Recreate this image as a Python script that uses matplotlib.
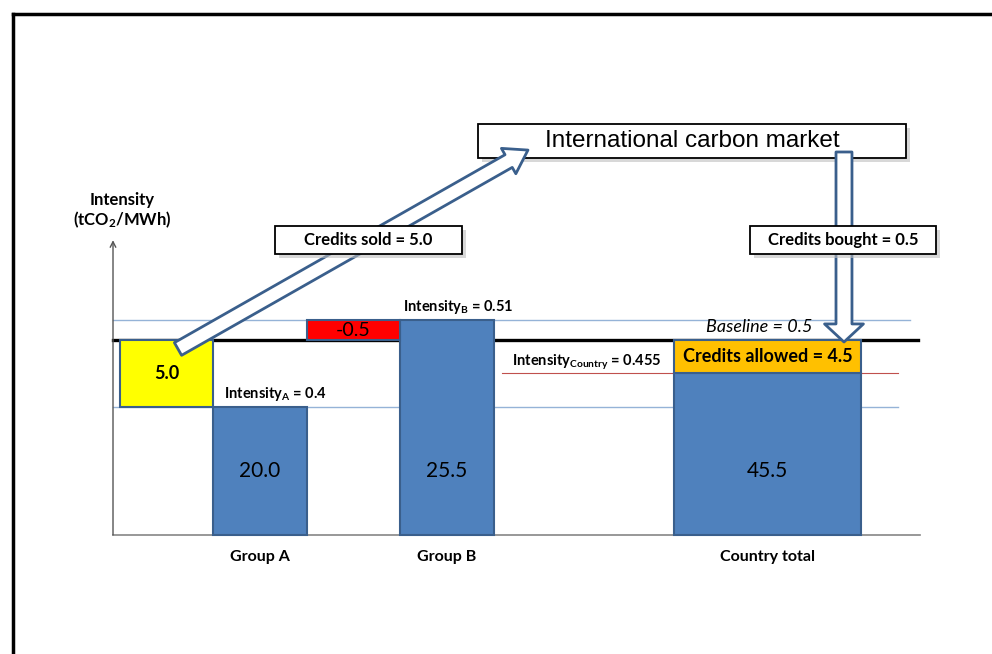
import matplotlib.pyplot as plt
import matplotlib.patches as mpatches
from matplotlib.lines import Line2D

plt.rcParams['font.family'] = ['Lato', 'DejaVu Sans']
plt.rcParams['mathtext.fontset'] = 'custom'
plt.rcParams['mathtext.rm'] = 'Lato:bold'
plt.rcParams['mathtext.default'] = 'rm'

# data
categories = ['Group A', 'Group B', 'Country total']
emissions = [20.0, 25.5, 45.5]
intensity_labels = ['Intensity$_{A}$ = 0.4', 'Intensity$_{B}$ = 0.51',
                    'Intensity$_{Country}$ = 0.455']
baseline = 0.5
# drawn heights of the bars (schematic, not to scale)
bar_top = [0.328, 0.551, 0.415]
bar_x = [1.5, 3.5, 6.93]
bar_w = [1, 1, 2]
credits_sold = 5.0
credits_bought = 0.5
credits_allowed = 4.5
shortfall_b = -0.5

blue = '#4F81BD'
edge = '#3A5F8C'

fig = plt.figure(figsize=(9.92, 6.54), dpi=100)
ax = fig.add_axes([0, 0, 1, 1])
ax.set_xlim(-1.2786, 9.331)
ax.set_ylim(-0.3051, 1.3718)
ax.axis('off')

# outer frame (cut off at right and bottom)
fig.add_artist(Line2D([13 / 992, 13 / 992], [0, 1 - 14 / 654], transform=fig.transFigure, color='black', lw=2.5))
fig.add_artist(Line2D([13 / 992, 1], [1 - 14 / 654, 1 - 14 / 654], transform=fig.transFigure, color='black', lw=2.5))

# axes lines
ax.plot([-0.07, 8.56], [0, 0], color='#868686', lw=1.2, zorder=2)
ax.annotate('', xy=(-0.07, 0.756), xytext=(-0.07, 0),
            arrowprops=dict(arrowstyle='->', color='#555555', lw=1, shrinkA=0, shrinkB=0))

# reference lines
ax.plot([-0.07, 8.45], [bar_top[1], bar_top[1]], color='#95B3D7', lw=1, zorder=2)
ax.plot([-0.07, 8.33], [bar_top[0], bar_top[0]], color='#95B3D7', lw=1, zorder=2)
ax.plot([4.09, 8.33], [bar_top[2], bar_top[2]], color='#C0504D', lw=0.8, zorder=2)
ax.plot([-0.07, 8.54], [baseline, baseline], color='black', lw=2.4, zorder=2)

# bars
ax.bar(bar_x, bar_top, width=bar_w, color=blue, edgecolor=edge, linewidth=1.5, zorder=3)
ax.bar(0.5, baseline - bar_top[0], bottom=bar_top[0], width=1, color='#FFFF00', edgecolor=edge, linewidth=1.5, zorder=3)
ax.bar(2.5, bar_top[1] - baseline, bottom=baseline, width=1, color='#FF0000', edgecolor=edge, linewidth=1.5, zorder=3)
ax.bar(bar_x[2], baseline - bar_top[2], bottom=bar_top[2], width=bar_w[2], color='#FFC000', edgecolor=edge, linewidth=1.5, zorder=3)

# values
for x, v in zip(bar_x, emissions):
    ax.text(x, 0.165, f'{v:.1f}', ha='center', va='center', fontsize=15, zorder=4)
ax.text(0.5, (baseline + bar_top[0]) / 2, f'{credits_sold:.1f}', ha='center', va='center',
        fontsize=13, fontweight='bold', zorder=4)
ax.text(2.5, (baseline + bar_top[1]) / 2 - 0.002, f'{shortfall_b:.1f}', ha='center', va='center', fontsize=14, zorder=4)
ax.text(bar_x[2], (baseline + bar_top[2]) / 2, f'Credits allowed = {credits_allowed}', ha='center', va='center',
        fontsize=13, fontweight='bold', zorder=4)

# intensity labels
ax.text(1.117, 0.3615, intensity_labels[0], ha='left', va='center', fontsize=10.5, fontweight='bold')
ax.text(3.03, 0.585, intensity_labels[1], ha='left', va='center', fontsize=10.5, fontweight='bold')
ax.text(4.197, 0.4436, intensity_labels[2], ha='left', va='center', fontsize=10.5, fontweight='bold')
ax.text(6.84, 0.533, f'Baseline = {baseline}', ha='center', va='center', fontsize=13, style='italic')

# category labels
for x, c in zip(bar_x, categories):
    ax.text(x, -0.056, c, ha='center', va='center', fontsize=11.5, fontweight='bold')

# y label
ax.text(0.026, 0.859, 'Intensity', ha='center', va='center', fontsize=12, fontweight='bold')
ax.text(0.026, 0.808, '(tCO$_{2}$/MWh)', ha='center', va='center', fontsize=12, fontweight='bold')

# boxes
def box(x0, x1, y0, y1, z):
    ax.add_patch(mpatches.Rectangle((x0 + 0.04, y0 - 0.01), x1 - x0, y1 - y0, facecolor='#BFBFBF',
                                    edgecolor='none', alpha=0.6, zorder=z - 0.1))
    ax.add_patch(mpatches.Rectangle((x0, y0), x1 - x0, y1 - y0, facecolor='white',
                                    edgecolor='black', lw=1.3, zorder=z))

box(3.834, 8.411, 0.9667, 1.0538, 4)
ax.text(6.123, 1.010, 'International carbon market', ha='center', va='center', fontsize=17.5,
        family='Liberation Sans', zorder=4.5)

# arrows
up = mpatches.FancyArrowPatch((0.625, 0.477), (4.368, 0.987),
                              arrowstyle=mpatches.ArrowStyle.Simple(head_length=1.6, head_width=2.1, tail_width=1.05),
                              mutation_scale=10, facecolor='white', edgecolor=edge, lw=2,
                              shrinkA=0, shrinkB=0, zorder=5)
ax.add_patch(up)
down = mpatches.FancyArrowPatch((7.748, 0.9821), (7.748, 0.4949),
                                arrowstyle=mpatches.ArrowStyle.Simple(head_length=1.3, head_width=2.8, tail_width=1.15),
                                mutation_scale=10, facecolor='white', edgecolor=edge, lw=2,
                                shrinkA=0, shrinkB=0, zorder=5)
ax.add_patch(down)

box(1.663, 3.663, 0.7205, 0.7923, 6)
ax.text(2.663, 0.756, f'Credits sold = {credits_sold}', ha='center', va='center', fontsize=12,
        fontweight='bold', zorder=6.5)
box(6.743, 8.732, 0.7205, 0.7923, 6)
ax.text(7.737, 0.756, f'Credits bought = {credits_bought}', ha='center', va='center', fontsize=12,
        fontweight='bold', zorder=6.5)

fig.savefig('out.png', dpi=100)
